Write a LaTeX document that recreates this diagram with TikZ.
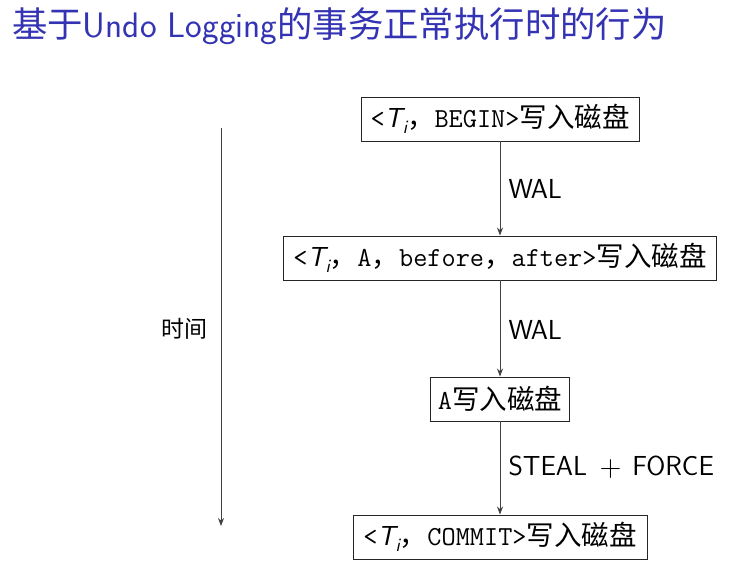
\documentclass[tikz,border=0pt]{standalone}
\usepackage{fontspec}
\newfontfamily\cjk{Noto Sans CJK SC}
\usetikzlibrary{arrows.meta}
\definecolor{titleblue}{RGB}{51,51,179}
\newcommand{\Ti}{{\sffamily\itshape T\kern0.5pt\raisebox{-0.22em}{\fontsize{19}{21}\selectfont i}}}
\begin{document}
\begin{tikzpicture}[x=1pt,y=-1pt,
  stepbox/.style={draw=black!85, line width=0.9pt, minimum height=44pt, inner xsep=6pt, inner ysep=2pt,
    font=\fontsize{27.5}{31}\selectfont\ttfamily},
  flow/.style={draw=black!75, line width=0.8pt, -{Stealth[length=8pt,width=6pt]}},
  lbl/.style={font=\fontsize{27.5}{31}\selectfont\sffamily, anchor=west}]
\useasboundingbox (0,0) rectangle (745,583);
\node[anchor=base west, text=titleblue, font=\fontsize{35.4}{40}\selectfont\sffamily, inner sep=0] (title) at (12,38)
  {{\cjk 基于}Undo Logging{\cjk 的事务正常执行时的行为}};
\node[stepbox, minimum width=278pt] (b1) at (500,119) {<\Ti{\cjk ，}BEGIN>{\cjk 写入磁盘}};
\node[stepbox, minimum width=433pt] (b2) at (500,258) {<\Ti{\cjk ，}A{\cjk ，}before{\cjk ，}after>{\cjk 写入磁盘}};
\node[stepbox, minimum width=139pt] (b3) at (500,399) {A{\cjk 写入磁盘}};
\node[stepbox, minimum width=294pt] (b4) at (500,537) {<\Ti{\cjk ，}COMMIT>{\cjk 写入磁盘}};
\draw[flow] (b1) -- (b2);
\draw[flow] (b2) -- (b3);
\draw[flow] (b3) -- (b4);
\node[lbl] (w1) at (505,189) {WAL};
\node[lbl] (w2) at (505,330) {WAL};
\node[lbl] (w3) at (505,467) {STEAL\hspace{4pt} {\fontsize{30}{32}\selectfont\raisebox{-1pt}{+}} \hspace{2pt}FORCE};
\coordinate (t0) at (221,128);
\coordinate (t1) at (221,526);
\draw[flow] (t0) -- (t1);
\node[font=\fontsize{23}{27}\selectfont\cjk] (time) at (184,329) {时间};
\end{tikzpicture}
\end{document}
